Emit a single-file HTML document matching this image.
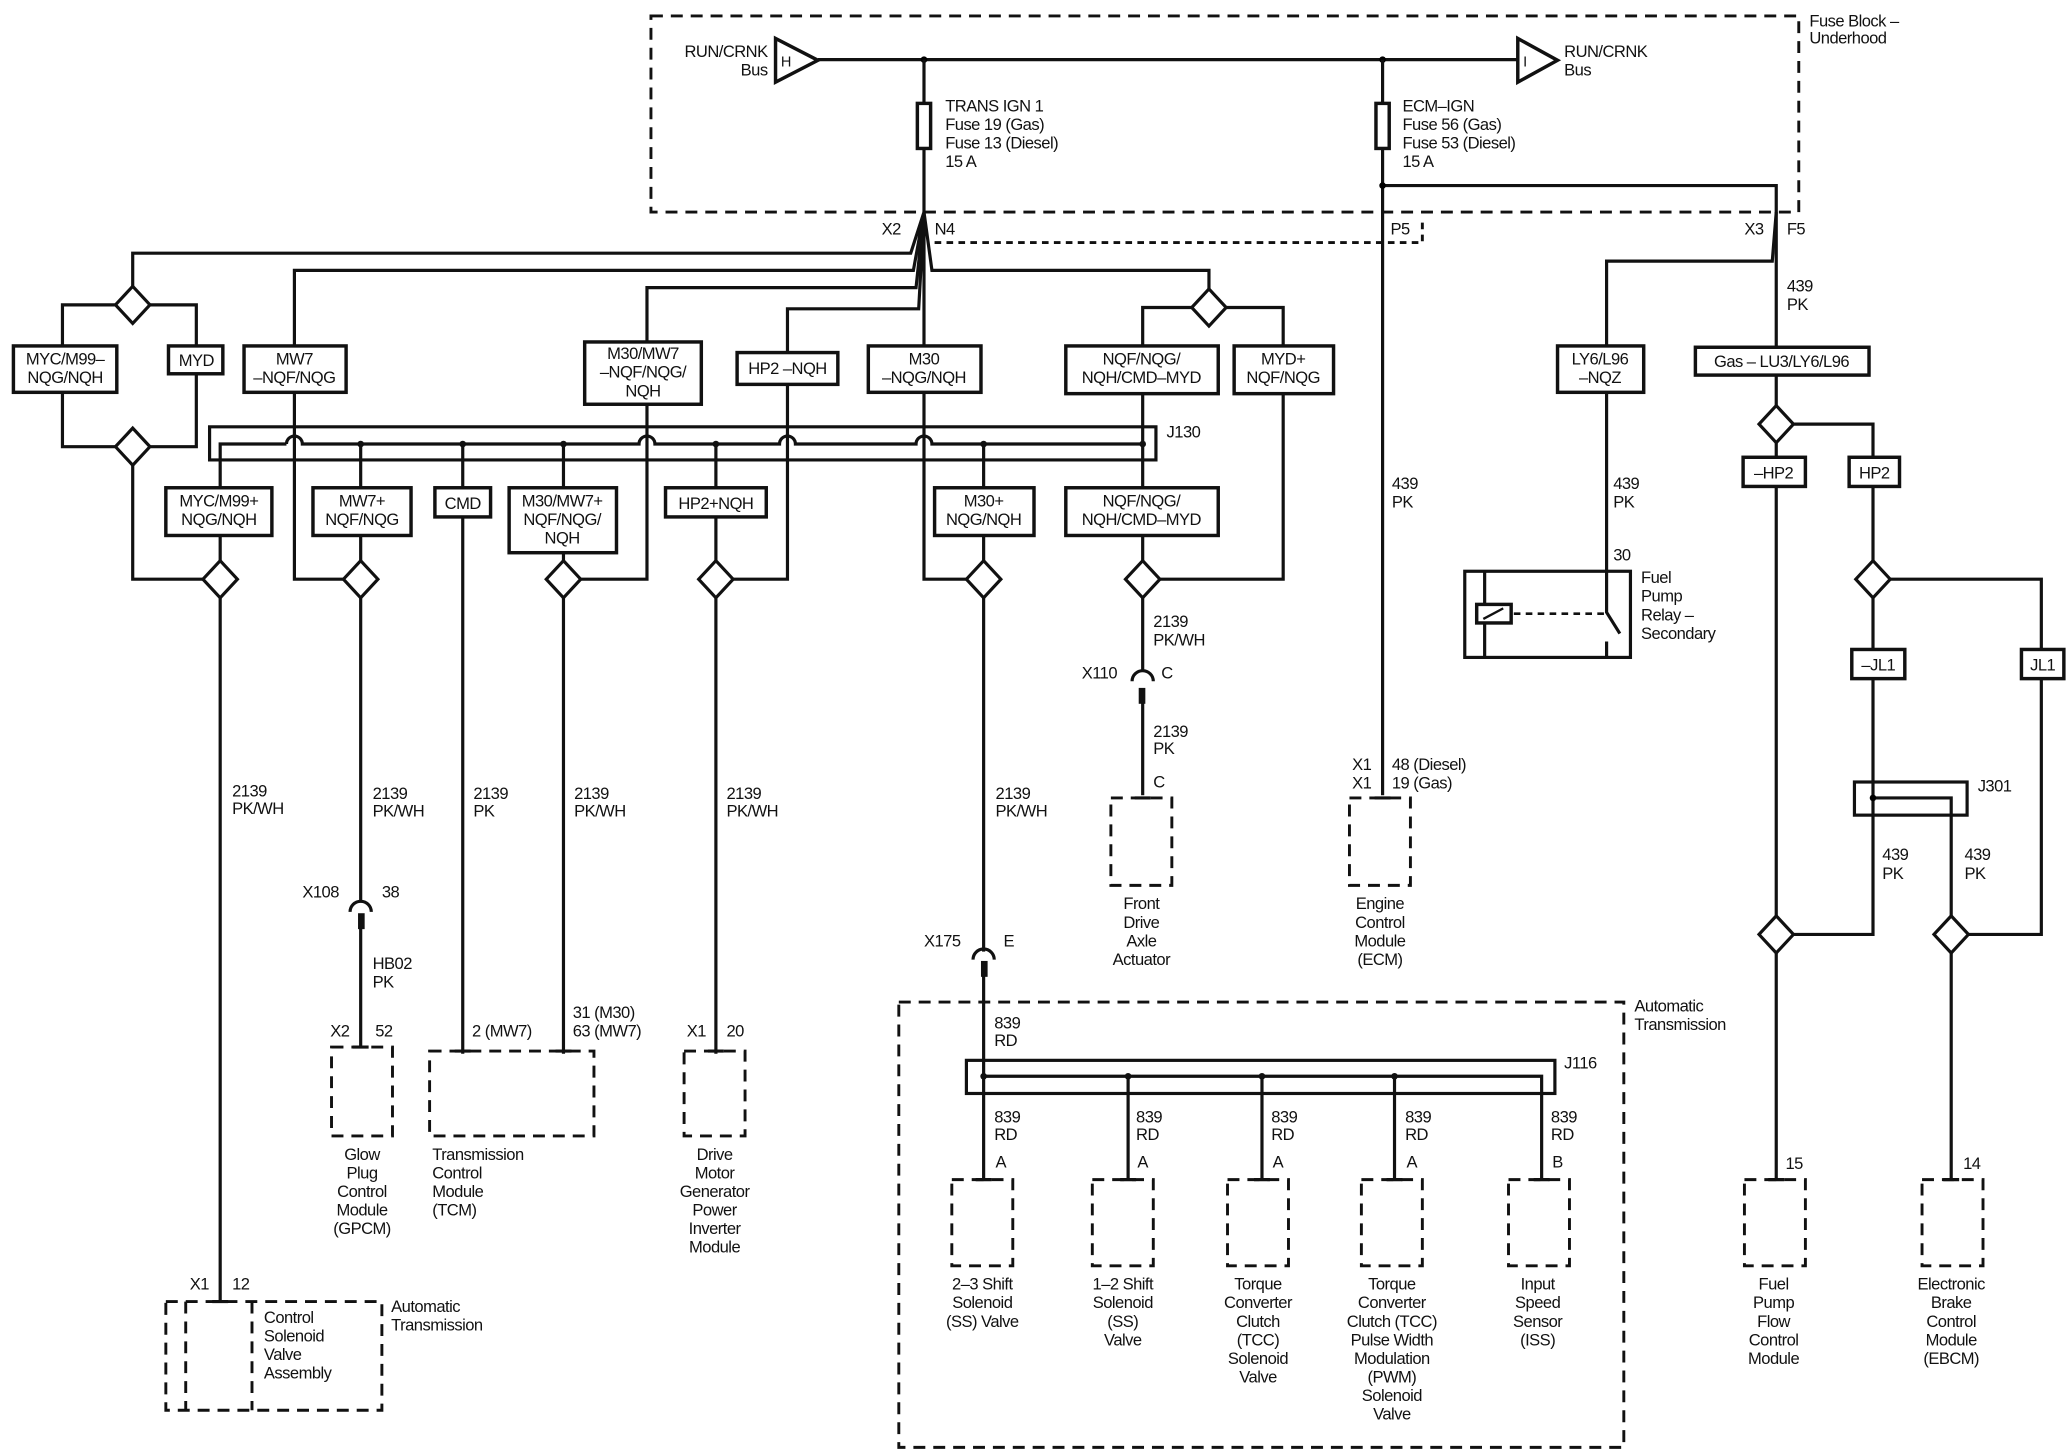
<!DOCTYPE html>
<html><head><meta charset="utf-8"><style>
html,body{margin:0;padding:0;background:#fff;}
svg{display:block;}
text{font-family:"Liberation Sans",sans-serif;font-size:12.5px;fill:#111;letter-spacing:-0.4px;}
.w{fill:none;stroke:#111;stroke-width:2.4;}
.b{fill:#fff;stroke:#111;stroke-width:2.6;}
.d{fill:none;stroke:#111;stroke-width:2.2;stroke-dasharray:9 6;}
.c{text-anchor:middle;}
.r{text-anchor:end;}
</style></head><body>
<svg width="2068" height="1454" viewBox="0 0 1560 1097" xmlns="http://www.w3.org/2000/svg">
<defs>
<polygon id="dm" points="0,-14 13,0 0,14 -13,0" fill="#fff" stroke="#111" stroke-width="2.4"/>
</defs>
<!-- Fuse block -->
<rect class="d" x="491" y="12" width="866" height="148"/>
<text x="1365" y="20">Fuse Block –</text><text x="1365" y="33">Underhood</text>
<path class="w" d="M617,45 H1145"/>
<polygon points="585,29 585,62 617,45.5" class="b"/>
<text x="589" y="50" style="font-size:11px">H</text>
<text class="r" x="579" y="43">RUN/CRNK</text><text class="r" x="579" y="57">Bus</text>
<polygon points="1145,29 1145,62 1175,45.5" class="b"/>
<text x="1149" y="50" style="font-size:11px">I</text>
<text x="1180" y="43">RUN/CRNK</text><text x="1180" y="57">Bus</text>
<circle cx="697" cy="45" r="2.5"/><circle cx="1043" cy="45" r="2.5"/>
<path class="w" d="M697,45 V160 M1043,45 V600 M1043,140 H1340 V262"/>
<circle cx="1043" cy="140" r="2.5"/>
<rect class="b" x="692" y="78" width="10" height="34"/>
<rect class="b" x="1038" y="78" width="10" height="34"/>
<text x="713" y="84">TRANS IGN 1</text><text x="713" y="98">Fuse 19 (Gas)</text><text x="713" y="112">Fuse 13 (Diesel)</text><text x="713" y="126">15 A</text>
<text x="1058" y="84">ECM–IGN</text><text x="1058" y="98">Fuse 56 (Gas)</text><text x="1058" y="112">Fuse 53 (Diesel)</text><text x="1058" y="126">15 A</text>
<path d="M705,183 H1073 V166" fill="none" stroke="#111" stroke-width="2.2" stroke-dasharray="5 4"/>
<text x="665" y="177">X2</text><text x="705" y="177">N4</text><text x="1049" y="177">P5</text>
<text x="1316" y="177">X3</text><text x="1348" y="177">F5</text>
<!-- fan out -->
<path class="w" d="M697,160 L687,191 H100 V216 M697,160 L689,204 H222 V262 M697,160 L691,217 H488 V258 M697,160 L693,233 H594 V265 M697,160 V262 M697,160 L703,204 H912 V218"/>
<path class="w" d="M1340,160 L1337,197 H1212 V262"/>
<!-- left diamonds -->
<path class="w" d="M100,230 H47 V262 M100,230 H148 V262 M47,296 V337 H100 M148,282 V337 H100 M100,337 V437 H166"/>
<use href="#dm" x="100" y="230"/><use href="#dm" x="100" y="337"/>
<rect class="b" x="10" y="261" width="78" height="35"/>
<text class="c" x="49" y="275">MYC/M99–</text><text class="c" x="49" y="289">NQG/NQH</text>
<rect class="b" x="127" y="261" width="41" height="21"/><text class="c" x="148" y="276">MYD</text>
<rect class="b" x="184" y="261" width="77" height="35"/>
<text class="c" x="222" y="275">MW7</text><text class="c" x="222" y="289">–NQF/NQG</text>
<rect class="b" x="441" y="258" width="88" height="47"/>
<text class="c" x="485" y="271">M30/MW7</text><text class="c" x="485" y="285">–NQF/NQG/</text><text class="c" x="485" y="299">NQH</text>
<rect class="b" x="556" y="266" width="76" height="24"/><text class="c" x="594" y="282">HP2 –NQH</text>
<rect class="b" x="655" y="261" width="85" height="35"/>
<text class="c" x="697" y="275">M30</text><text class="c" x="697" y="289">–NQG/NQH</text>
<!-- right top diamond -->
<path class="w" d="M912,232 H862 V262 M912,232 H968 V262 M968,296 V437 H862"/>
<use href="#dm" x="912" y="232"/>
<rect class="b" x="804" y="261" width="115" height="36"/>
<text class="c" x="861" y="275">NQF/NQG/</text><text class="c" x="861" y="289">NQH/CMD–MYD</text>
<rect class="b" x="931" y="261" width="75" height="36"/>
<text class="c" x="968" y="275">MYD+</text><text class="c" x="968" y="289">NQF/NQG</text>
<!-- J130 -->
<path class="w" d="M872,322 H158 V347 H872 Z" />
<path class="w" d="M166,368 V335 H216 M216,335 a6,6 0 0 1 12,0 H482 a6,6 0 0 1 12,0 H588 a6,6 0 0 1 12,0 H691 a6,6 0 0 1 12,0 H862"/>
<path class="w" d="M222,296 V437 H272 M488,305 V437 H425 M594,290 V437 H540 M697,296 V437 H742 M862,297 V368"/>
<g fill="#111"><circle cx="272" cy="335" r="2.5"/><circle cx="349" cy="335" r="2.5"/><circle cx="425" cy="335" r="2.5"/><circle cx="540" cy="335" r="2.5"/><circle cx="742" cy="335" r="2.5"/><circle cx="862" cy="335" r="2.5"/></g>
<text x="880" y="330">J130</text>
<path class="w" d="M272,335 V368 M349,335 V368 M425,335 V368 M540,335 V368 M742,335 V368"/>
<rect class="b" x="125" y="368" width="80" height="36"/>
<text class="c" x="165" y="382">MYC/M99+</text><text class="c" x="165" y="396">NQG/NQH</text>
<rect class="b" x="236" y="368" width="74" height="36"/>
<text class="c" x="273" y="382">MW7+</text><text class="c" x="273" y="396">NQF/NQG</text>
<rect class="b" x="328" y="368" width="42" height="22"/><text class="c" x="349" y="384">CMD</text>
<rect class="b" x="384" y="368" width="81" height="49"/>
<text class="c" x="424" y="382">M30/MW7+</text><text class="c" x="424" y="396">NQF/NQG/</text><text class="c" x="424" y="410">NQH</text>
<rect class="b" x="502" y="368" width="76" height="22"/><text class="c" x="540" y="384">HP2+NQH</text>
<rect class="b" x="705" y="368" width="75" height="36"/>
<text class="c" x="742" y="382">M30+</text><text class="c" x="742" y="396">NQG/NQH</text>
<rect class="b" x="804" y="368" width="115" height="36"/>
<text class="c" x="861" y="382">NQF/NQG/</text><text class="c" x="861" y="396">NQH/CMD–MYD</text>
<path class="w" d="M166,404 V982 M272,404 V680 M272,698 V790 M349,390 V795 M425,417 V795 M540,390 V795 M742,404 V718 M742,736 V825 M862,404 V506 M862,522 V600"/>
<use href="#dm" x="166" y="437"/><use href="#dm" x="272" y="437"/><use href="#dm" x="425" y="437"/><use href="#dm" x="540" y="437"/><use href="#dm" x="742" y="437"/><use href="#dm" x="862" y="437"/>
<!-- connectors -->
<g fill="none" stroke="#111" stroke-width="2.4">
<path d="M264,688 a8,8 0 0 1 16,0"/><path d="M734,724 a8,8 0 0 1 16,0"/><path d="M854,514 a8,8 0 0 1 16,0"/>
</g>
<rect x="270" y="689" width="5" height="12" fill="#111"/><rect x="740" y="725" width="5" height="12" fill="#111"/><rect x="859" y="519" width="5" height="12" fill="#111"/>
<text x="175" y="601">2139</text><text x="175" y="614">PK/WH</text>
<text x="281" y="603">2139</text><text x="281" y="616">PK/WH</text>
<text x="357" y="603">2139</text><text x="357" y="616">PK</text>
<text x="433" y="603">2139</text><text x="433" y="616">PK/WH</text>
<text x="548" y="603">2139</text><text x="548" y="616">PK/WH</text>
<text x="751" y="603">2139</text><text x="751" y="616">PK/WH</text>
<text x="228" y="677">X108</text><text x="288" y="677">38</text>
<text x="281" y="731">HB02</text><text x="281" y="745">PK</text>
<text x="249" y="782">X2</text><text x="283" y="782">52</text>
<text x="356" y="782">2 (MW7)</text>
<text x="432" y="768">31 (M30)</text><text x="432" y="782">63 (MW7)</text>
<text x="518" y="782">X1</text><text x="548" y="782">20</text>
<text x="697" y="714">X175</text><text x="757" y="714">E</text>
<text x="750" y="776">839</text><text x="750" y="789">RD</text>
<text x="870" y="473">2139</text><text x="870" y="487">PK/WH</text>
<text x="816" y="512">X110</text><text x="876" y="512">C</text>
<text x="870" y="556">2139</text><text x="870" y="569">PK</text>
<text x="870" y="594">C</text>
<text x="1050" y="369">439</text><text x="1050" y="383">PK</text>
<text x="1020" y="581">X1</text><text x="1020" y="595">X1</text><text x="1050" y="581">48 (Diesel)</text><text x="1050" y="595">19 (Gas)</text>
<!-- module boxes -->
<g fill="none" stroke="#111" stroke-width="2.2" stroke-dasharray="9 6">
<rect x="250" y="790" width="46" height="67"/>
<rect x="324" y="793" width="124" height="64"/>
<rect x="516" y="793" width="46" height="64"/>
<rect x="838" y="602" width="46" height="66"/>
<rect x="1018" y="602" width="46" height="66"/>
<rect x="125" y="982" width="163" height="82"/>
<path d="M140,982 V1064 M190,982 V1064"/>
<rect x="678" y="756" width="547" height="336"/>
<rect x="718" y="890" width="46" height="65"/><rect x="824" y="890" width="46" height="65"/><rect x="926" y="890" width="46" height="65"/><rect x="1027" y="890" width="46" height="65"/><rect x="1138" y="890" width="46" height="65"/>
<rect x="1316" y="890" width="46" height="65"/><rect x="1450" y="890" width="46" height="65"/>
</g>
<text class="c" x="273" y="875">Glow</text><text class="c" x="273" y="889">Plug</text><text class="c" x="273" y="903">Control</text><text class="c" x="273" y="917">Module</text><text class="c" x="273" y="931">(GPCM)</text>
<text x="326" y="875">Transmission</text><text x="326" y="889">Control</text><text x="326" y="903">Module</text><text x="326" y="917">(TCM)</text>
<text class="c" x="539" y="875">Drive</text><text class="c" x="539" y="889">Motor</text><text class="c" x="539" y="903">Generator</text><text class="c" x="539" y="917">Power</text><text class="c" x="539" y="931">Inverter</text><text class="c" x="539" y="945">Module</text>
<text class="c" x="861" y="686">Front</text><text class="c" x="861" y="700">Drive</text><text class="c" x="861" y="714">Axle</text><text class="c" x="861" y="728">Actuator</text>
<text class="c" x="1041" y="686">Engine</text><text class="c" x="1041" y="700">Control</text><text class="c" x="1041" y="714">Module</text><text class="c" x="1041" y="728">(ECM)</text>
<text x="143" y="973">X1</text><text x="175" y="973">12</text>
<text x="199" y="998">Control</text><text x="199" y="1012">Solenoid</text><text x="199" y="1026">Valve</text><text x="199" y="1040">Assembly</text>
<text x="295" y="990">Automatic</text><text x="295" y="1004">Transmission</text>
<text x="1233" y="763">Automatic</text><text x="1233" y="777">Transmission</text>
<!-- J116 -->
<rect class="w" x="729" y="800" width="444" height="25"/>
<path class="w" d="M742,812 H1163 V890 M742,825 V890 M851,812 V890 M952,812 V890 M1052,812 V890"/>
<g fill="#111"><circle cx="742" cy="812" r="2.5"/><circle cx="851" cy="812" r="2.5"/><circle cx="952" cy="812" r="2.5"/><circle cx="1052" cy="812" r="2.5"/></g>
<text x="1180" y="806">J116</text>
<text x="750" y="847">839</text><text x="750" y="860">RD</text><text x="751" y="881">A</text>
<text x="857" y="847">839</text><text x="857" y="860">RD</text><text x="858" y="881">A</text>
<text x="959" y="847">839</text><text x="959" y="860">RD</text><text x="960" y="881">A</text>
<text x="1060" y="847">839</text><text x="1060" y="860">RD</text><text x="1061" y="881">A</text>
<text x="1170" y="847">839</text><text x="1170" y="860">RD</text><text x="1171" y="881">B</text>
<text class="c" x="741" y="973">2–3 Shift</text><text class="c" x="741" y="987">Solenoid</text><text class="c" x="741" y="1001">(SS) Valve</text>
<text class="c" x="847" y="973">1–2 Shift</text><text class="c" x="847" y="987">Solenoid</text><text class="c" x="847" y="1001">(SS)</text><text class="c" x="847" y="1015">Valve</text>
<text class="c" x="949" y="973">Torque</text><text class="c" x="949" y="987">Converter</text><text class="c" x="949" y="1001">Clutch</text><text class="c" x="949" y="1015">(TCC)</text><text class="c" x="949" y="1029">Solenoid</text><text class="c" x="949" y="1043">Valve</text>
<text class="c" x="1050" y="973">Torque</text><text class="c" x="1050" y="987">Converter</text><text class="c" x="1050" y="1001">Clutch (TCC)</text><text class="c" x="1050" y="1015">Pulse Width</text><text class="c" x="1050" y="1029">Modulation</text><text class="c" x="1050" y="1043">(PWM)</text><text class="c" x="1050" y="1057">Solenoid</text><text class="c" x="1050" y="1071">Valve</text>
<text class="c" x="1160" y="973">Input</text><text class="c" x="1160" y="987">Speed</text><text class="c" x="1160" y="1001">Sensor</text><text class="c" x="1160" y="1015">(ISS)</text>
<!-- right side -->
<rect class="b" x="1175" y="261" width="65" height="35"/>
<text class="c" x="1207" y="275">LY6/L96</text><text class="c" x="1207" y="289">–NQZ</text>
<rect class="b" x="1279" y="262" width="131" height="21"/><text class="c" x="1344" y="277">Gas – LU3/LY6/L96</text>
<text x="1348" y="220">439</text><text x="1348" y="234">PK</text>
<path class="w" d="M1212,296 V462 L1222,478 M1212,484 V496"/>
<text x="1217" y="369">439</text><text x="1217" y="383">PK</text><text x="1217" y="423">30</text>
<rect class="w" x="1105" y="431" width="125" height="65"/>
<path class="w" d="M1120,431 V496"/>
<rect class="b" x="1114" y="456" width="26" height="14"/><path class="w" d="M1119,467 L1134,459" style="stroke-width:1.8"/>
<path d="M1142,463 H1210" fill="none" stroke="#111" stroke-width="2" stroke-dasharray="5 4"/>
<text x="1238" y="440">Fuel</text><text x="1238" y="454">Pump</text><text x="1238" y="468">Relay –</text><text x="1238" y="482">Secondary</text>
<path class="w" d="M1340,283 V890 M1340,320 H1413 V705 H1340 M1413,437 H1540 V705 H1472 M1413,602 H1472 V890"/>
<use href="#dm" x="1340" y="320"/>
<rect class="b" x="1315" y="345" width="47" height="22"/><text class="c" x="1338" y="361">–HP2</text>
<rect class="b" x="1395" y="345" width="38" height="22"/><text class="c" x="1414" y="361">HP2</text>
<use href="#dm" x="1413" y="437"/>
<rect class="b" x="1397" y="490" width="40" height="22"/><text class="c" x="1417" y="506">–JL1</text>
<rect class="b" x="1525" y="490" width="32" height="22"/><text class="c" x="1541" y="506">JL1</text>
<rect class="w" x="1399" y="590" width="85" height="25"/>
<circle cx="1413" cy="602" r="2.5"/>
<text x="1492" y="597">J301</text>
<text x="1420" y="649">439</text><text x="1420" y="663">PK</text>
<text x="1482" y="649">439</text><text x="1482" y="663">PK</text>
<use href="#dm" x="1340" y="705"/><use href="#dm" x="1472" y="705"/>
<text x="1347" y="882">15</text><text x="1481" y="882">14</text>
<text class="c" x="1338" y="973">Fuel</text><text class="c" x="1338" y="987">Pump</text><text class="c" x="1338" y="1001">Flow</text><text class="c" x="1338" y="1015">Control</text><text class="c" x="1338" y="1029">Module</text>
<text class="c" x="1472" y="973">Electronic</text><text class="c" x="1472" y="987">Brake</text><text class="c" x="1472" y="1001">Control</text><text class="c" x="1472" y="1015">Module</text><text class="c" x="1472" y="1029">(EBCM)</text>
<!-- terminal ticks -->
<path class="w" d="M266,790 H278 M343,793 H355 M419,793 H431 M534,793 H546 M856,602 H868 M1037,602 H1049 M160,982 H172 M736,890 H748 M845,890 H857 M946,890 H958 M1046,890 H1058 M1157,890 H1169 M1334,890 H1346 M1466,890 H1478"/>
</svg>
</body></html>
